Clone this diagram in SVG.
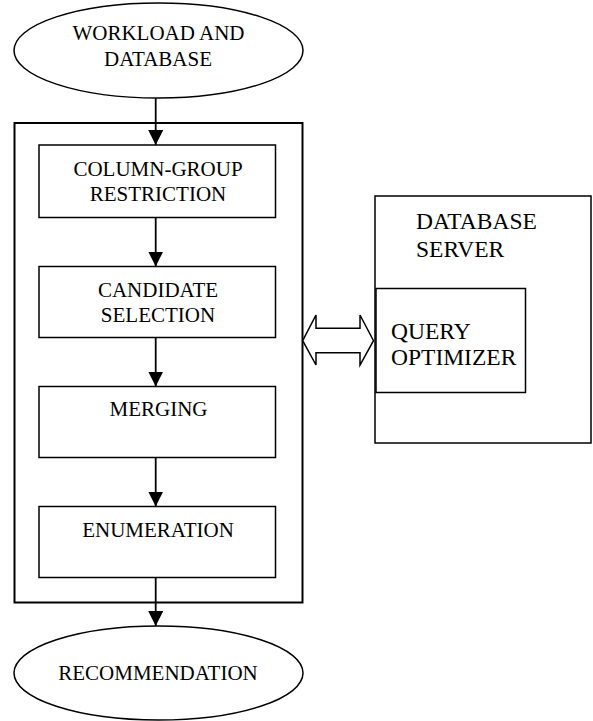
<svg xmlns="http://www.w3.org/2000/svg" width="593" height="721" viewBox="0 0 593 721">
<style>
  .shape { fill: #fff; stroke: #000; stroke-width: 1.5; }
  .outer { fill: none; stroke: #000; stroke-width: 2; }
  .txt { font-family: "Liberation Serif", "Times New Roman", serif; font-size: 21px; fill: #000; }
  .mid { text-anchor: middle; }
  .big { font-size: 23.5px; }
  .conn { stroke: #000; stroke-width: 1.8; fill: none; }
</style>
<defs>
  <marker id="ah" markerUnits="userSpaceOnUse" markerWidth="16" markerHeight="15" refX="15" refY="7.5" orient="auto">
    <path d="M0,0 L15,7.5 L0,15 z" fill="#000"/>
  </marker>
</defs>
<rect width="593" height="721" fill="#fff"/>

<g id="pipeline">
  <rect class="outer" x="14.5" y="123" width="288" height="479.5"/>
</g>

<g id="server">
  <rect class="shape" x="375" y="196" width="216" height="247"/>
  <text class="txt big" x="416" y="229">DATABASE</text>
  <text class="txt big" x="416" y="256.5">SERVER</text>
</g>

<g id="optimizer">
  <rect class="shape" x="376" y="288.5" width="149.5" height="104"/>
  <text class="txt big" x="391" y="339">QUERY</text>
  <text class="txt big" x="391" y="365">OPTIMIZER</text>
</g>

<g id="workload">
  <ellipse class="shape" cx="158.5" cy="50.5" rx="144.5" ry="47.5"/>
  <text class="txt mid" x="158.5" y="39.5">WORKLOAD AND</text>
  <text class="txt mid" x="158" y="65.5">DATABASE</text>
</g>

<g id="restriction">
  <rect class="shape" x="39" y="145" width="236.5" height="72.5"/>
  <text class="txt mid" x="158" y="175.5">COLUMN-GROUP</text>
  <text class="txt mid" x="158" y="200.5">RESTRICTION</text>
</g>

<g id="candidate">
  <rect class="shape" x="39" y="266.5" width="236.5" height="71"/>
  <text class="txt mid" x="158" y="296.5">CANDIDATE</text>
  <text class="txt mid" x="158" y="321.5">SELECTION</text>
</g>

<g id="merging">
  <rect class="shape" x="39" y="386.5" width="236.5" height="71"/>
  <text class="txt mid" x="158.5" y="416">MERGING</text>
</g>

<g id="enumeration">
  <rect class="shape" x="39" y="506.5" width="236.5" height="71"/>
  <text class="txt mid" x="158" y="536.5">ENUMERATION</text>
</g>

<g id="recommendation">
  <ellipse class="shape" cx="158.5" cy="673" rx="144.5" ry="47"/>
  <text class="txt mid" x="158" y="680">RECOMMENDATION</text>
</g>

<g id="connectors">
  <line class="conn" x1="155.7" y1="98" x2="155.7" y2="145" marker-end="url(#ah)"/>
  <line class="conn" x1="155.7" y1="217.5" x2="155.7" y2="266.5" marker-end="url(#ah)"/>
  <line class="conn" x1="155.7" y1="337.5" x2="155.7" y2="386.5" marker-end="url(#ah)"/>
  <line class="conn" x1="155.7" y1="457.5" x2="155.7" y2="506.5" marker-end="url(#ah)"/>
  <line class="conn" x1="155.7" y1="577.5" x2="155.7" y2="626" marker-end="url(#ah)"/>
  <polygon class="shape" points="302.7,340.7 316,315 316,328.3 360,328.3 360,315 373.5,340.7 360,365 360,352.7 316,352.7 316,365"/>
</g>
</svg>
